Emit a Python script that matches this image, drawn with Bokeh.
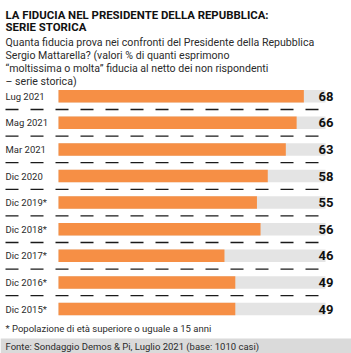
from bokeh.plotting import figure
from bokeh.models import Range1d, ColumnDataSource, Label
from bokeh.core.properties import value
from bokeh.embed import file_html
from bokeh.resources import INLINE

# ---- data ----
categories = ["Lug 2021", "Mag 2021", "Mar 2021", "Dic 2020", "Dic 2019*",
              "Dic 2018*", "Dic 2017*", "Dic 2016*", "Dic 2015*"]
values = [68, 66, 63, 58, 55, 56, 46, 49, 49]
scale_max = 74

title_lines = ["LA FIDUCIA NEL PRESIDENTE DELLA REPUBBLICA:", "SERIE STORICA"]
subtitle_lines = ["Quanta fiducia prova nei confronti del Presidente della Repubblica",
                  "Sergio Mattarella? (valori % di quanti esprimono",
                  "\u201cmoltissima o molta\u201d fiducia al netto dei non rispondenti",
                  "\u2013 serie storica)"]
footnote = "* Popolazione di et\u00e0 superiore o uguale a 15 anni"
source_text = "Fonte: Sondaggio Demos & Pi, Luglio 2021 (base: 1010 casi)"

# ---- layout (pixels) ----
W, H = 351, 353
BAR_X0 = 58.0
BAR_X1 = 325.0
PXU = (BAR_X1 - BAR_X0) / scale_max
ROW0 = 95.7
ROWH = 26.6

def dx(px):
    return (px - BAR_X0) / PXU

def dy(py):
    return -(py - ROW0) / ROWH

p = figure(width=W, height=H, output_backend="svg", toolbar_location=None,
           x_range=Range1d(dx(0), dx(W)), y_range=Range1d(dy(H), dy(0)),
           min_border=0, min_border_left=0, min_border_right=0,
           min_border_top=0, min_border_bottom=0)
p.axis.visible = False
p.grid.visible = False
p.outline_line_color = None
p.background_fill_color = "white"
p.border_fill_color = "white"

n = len(categories)
ys = [-i for i in range(n)]
src = ColumnDataSource(dict(cat=categories, val=values, y=ys,
                            full=[scale_max] * n,
                            lab=[str(v) for v in values]))

BH = 12.5 / ROWH
p.hbar(y="y", left=0, right="full", height=BH, source=src,
       fill_color="#E4E4E4", line_color=None)
p.hbar(y="y", left=0, right="val", height=BH, source=src,
       fill_color="#F68F45", line_color=None)

# separators
sep_y = [-(i + 0.5) for i in range(n - 1)]
p.segment(x0=[dx(5)] * len(sep_y), x1=[scale_max] * len(sep_y), y0=sep_y, y1=sep_y,
          line_color="#1a1a1a", line_width=1.3, line_dash="13 12")

# category labels
p.text(x=dx(5), y="y", text="cat", source=src, text_font=value("Roboto"),
       text_font_size="9.5px", text_color="#2b2b2b",
       text_baseline="middle", text_align="left")
# value labels
p.text(x=dx(333), y="y", text="lab", source=src,
       text_font=value("Roboto"), text_font_style="bold",
       text_font_size="13px", text_color="#111111",
       text_baseline="middle", text_align="right")

# source band
p.quad(left=[dx(0)], right=[dx(W)], bottom=[dy(H)], top=[dy(338)],
       fill_color="#DADADA", line_color=None)

def add_text(txt, px, py, size, bold=False, color="#222222", font="Roboto"):
    p.add_layout(Label(x=dx(px), y=dy(py), text=txt, text_font=font,
                       text_font_size=size, text_font_style="bold" if bold else "normal",
                       text_color=color, text_baseline="middle", text_align="left"))

add_text(title_lines[0], 5, 14.5, "11.4px", bold=True, color="#111111")
add_text(title_lines[1], 5, 26.5, "11.4px", bold=True, color="#111111")
for k, line in enumerate(subtitle_lines):
    add_text(line, 5, 42 + 13 * k, "10.6px", color="#2b2b2b")
add_text(footnote, 5, 328, "9.5px", color="#2b2b2b")
add_text(source_text, 5, 346, "9.5px", color="#2b2b2b")

open("out.html", "w").write(file_html(p, INLINE))
